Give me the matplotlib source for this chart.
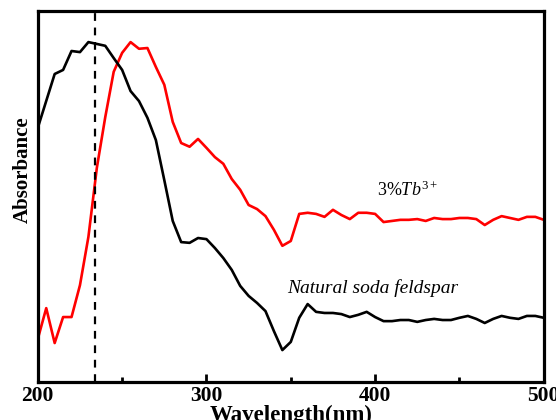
import matplotlib
matplotlib.use('Agg')
import matplotlib.pyplot as plt
import numpy as np

# wavelength (nm) and absorbance (a.u.)
wl_nat = [200, 210, 215, 220, 225, 230, 235, 240, 245, 250, 255, 260, 265, 270, 275, 280,
          285, 290, 295, 300, 305, 310, 315, 320, 325, 330, 335, 340, 345, 350, 355, 360,
          365, 370, 375, 380, 385, 390, 395, 400, 405, 410, 415, 420, 425, 430, 435, 440,
          445, 450, 455, 460, 465, 470, 475, 480, 485, 490, 495, 500]
abs_nat = [0.685, 0.830, 0.841, 0.892, 0.889, 0.916, 0.911, 0.906, 0.873, 0.841, 0.784, 0.757,
           0.712, 0.652, 0.544, 0.434, 0.377, 0.375, 0.388, 0.385, 0.361, 0.334, 0.302, 0.259,
           0.232, 0.213, 0.191, 0.137, 0.086, 0.108, 0.173, 0.210, 0.189, 0.186, 0.186, 0.183,
           0.175, 0.181, 0.189, 0.175, 0.164, 0.164, 0.167, 0.167, 0.162, 0.167, 0.170, 0.167,
           0.167, 0.173, 0.178, 0.170, 0.159, 0.170, 0.178, 0.173, 0.170, 0.178, 0.178, 0.173]

wl_tb = list(range(200, 505, 5))
abs_tb = [0.116, 0.199, 0.105, 0.175, 0.175, 0.261, 0.391, 0.577, 0.714, 0.836, 0.887, 0.916,
          0.898, 0.900, 0.849, 0.801, 0.701, 0.644, 0.634, 0.655, 0.631, 0.606, 0.588, 0.547,
          0.518, 0.477, 0.466, 0.447, 0.410, 0.367, 0.380, 0.453, 0.456, 0.453, 0.445, 0.464,
          0.450, 0.439, 0.456, 0.456, 0.453, 0.431, 0.434, 0.437, 0.437, 0.439, 0.434, 0.442,
          0.439, 0.439, 0.442, 0.442, 0.439, 0.423, 0.437, 0.447, 0.442, 0.437, 0.445, 0.445,
          0.437]

peak_wl = 234

plt.rcParams['font.family'] = ['Liberation Serif', 'DejaVu Serif']
plt.rcParams['mathtext.fontset'] = 'custom'
plt.rcParams['mathtext.rm'] = 'Liberation Serif'
plt.rcParams['mathtext.it'] = 'Liberation Serif:italic'

fig = plt.figure(figsize=(5.56, 4.2), dpi=100)
ax = fig.add_axes([0.068, 0.0905, 0.91, 0.8835])

ax.plot(wl_tb, abs_tb, color='#ff0000', lw=1.9)
ax.plot(wl_nat, abs_nat, color='black', lw=1.9)
ax.axvline(peak_wl, color='black', lw=1.6, linestyle=(0, (3.5, 3)))

ax.text(401, 0.50, r'3%$\mathit{Tb}^{\mathit{3+}}$', fontsize=13)
ax.text(348, 0.24, 'Natural soda feldspar', fontsize=14, style='italic')

ax.set_xlim(200, 500)
ax.set_ylim(0, 1)
ax.set_xticks([200, 300, 400, 500])
ax.set_xticks([250, 350, 450], minor=True)
ax.set_yticks([])
ax.tick_params(axis='x', which='major', direction='in', length=6, width=2, labelsize=15.5, pad=3)
ax.tick_params(axis='x', which='minor', direction='in', length=3.5, width=2)
for lab in ax.get_xticklabels():
    lab.set_fontweight('bold')
for s in ax.spines.values():
    s.set_linewidth(2.3)

ax.set_xlabel('Wavelength(nm)', fontsize=16.5, fontweight='bold', labelpad=-1)
ax.set_ylabel('Absorbance', fontsize=15, fontweight='bold')
ax.yaxis.set_label_coords(-0.01, 0.571)

fig.savefig('out.png', dpi=100)
